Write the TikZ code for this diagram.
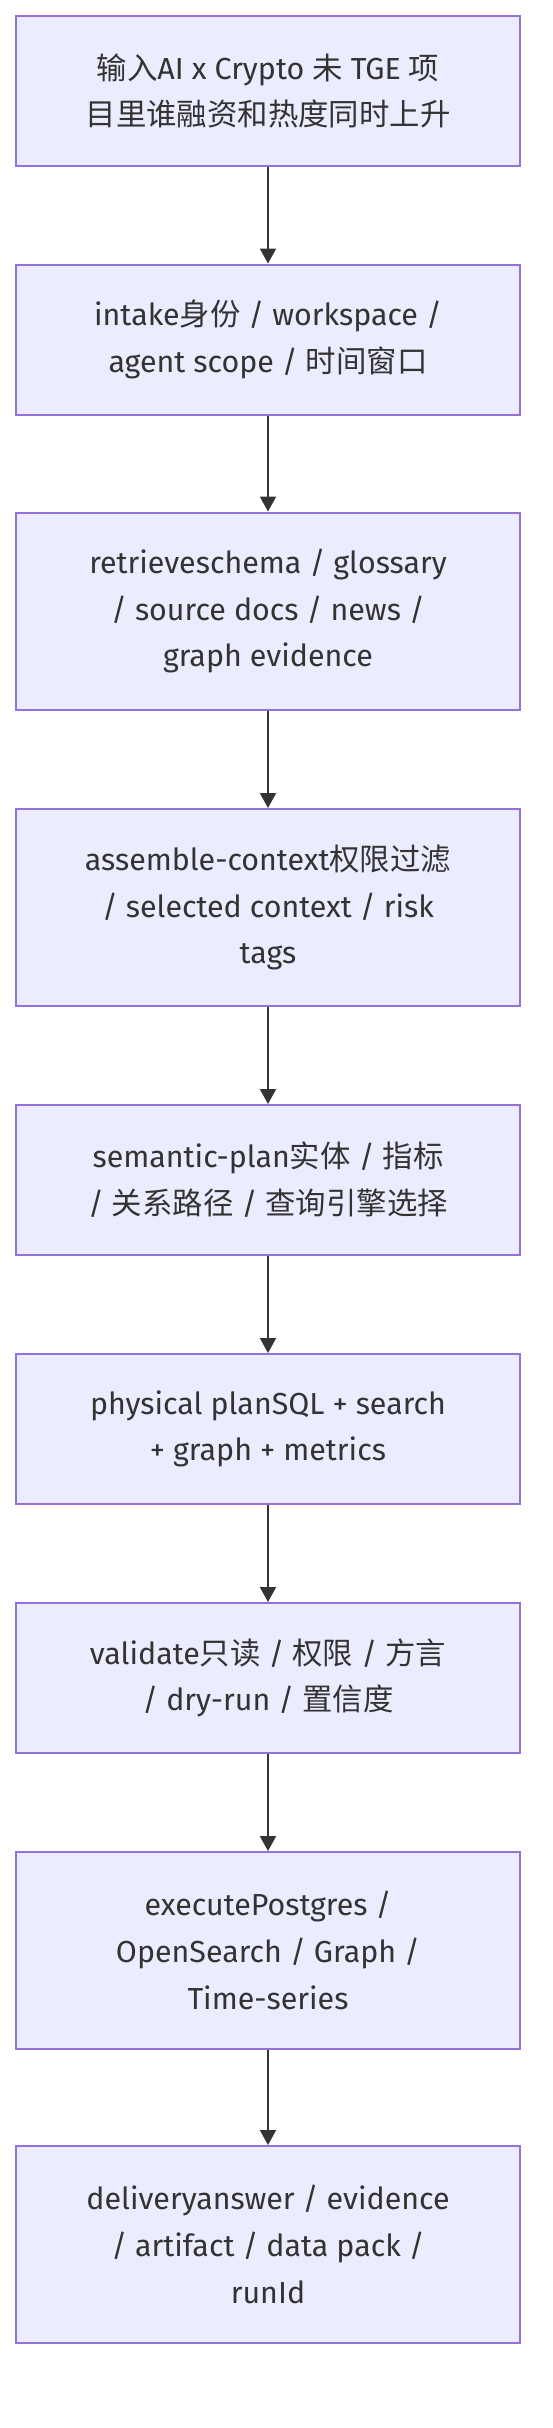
\documentclass[tikz,border=0pt]{standalone}
\usepackage{fontspec}
\setmainfont{Fira Sans}
\newfontfamily\cjk{Noto Sans CJK SC}
\usetikzlibrary{arrows.meta}
\definecolor{boxfill}{HTML}{ECECFF}
\definecolor{boxline}{HTML}{9370DB}
\definecolor{txt}{HTML}{333333}
\newcommand{\zh}[1]{{\cjk #1}}
\begin{document}
\begin{tikzpicture}[x=1pt,y=1pt,
  stepbox/.style={draw=boxline, fill=boxfill, line width=2pt, minimum width=504pt,
    align=center, text=txt, font=\fontsize{30.4}{46.7}\selectfont, inner sep=0pt},
  twoline/.style={minimum height=150pt},
  threeline/.style={minimum height=197pt},
  flow/.style={draw=txt, line width=2pt, -{Triangle[width=16pt,length=15pt]}}]
\useasboundingbox (0,0) rectangle (552,-2428);
\node[stepbox,twoline] (n1) at (268,-91) {\zh{输入}AI x Crypto \zh{未} TGE \zh{项}\\\zh{目里谁融资和热度同时上升}};
\node[stepbox,twoline] (n2) at (268,-339.5) {intake\zh{身份} / workspace /\\agent scope / \zh{时间窗口}};
\node[stepbox,threeline] (n3) at (268,-611) {retrieveschema / glossary\\/ source docs / news /\\graph evidence};
\node[stepbox,threeline] (n4) at (268,-907.5) {assemble-context\zh{权限过滤}\\/ selected context / risk\\tags};
\node[stepbox,twoline] (n5) at (268,-1180) {semantic-plan\zh{实体} / \zh{指标}\\/ \zh{关系路径} / \zh{查询引擎选择}};
\node[stepbox,twoline] (n6) at (268,-1429) {physical planSQL + search\\+ graph + metrics};
\node[stepbox,twoline] (n7) at (268,-1678) {validate\zh{只读} / \zh{权限} / \zh{方言}\\/ dry-run / \zh{置信度}};
\node[stepbox,threeline] (n8) at (268,-1950.5) {executePostgres /\\OpenSearch / Graph /\\Time-series};
\node[stepbox,threeline] (n9) at (268,-2244.5) {deliveryanswer / evidence\\/ artifact / data pack /\\runId};
\draw[flow] (n1) -- (n2);
\draw[flow] (n2) -- (n3);
\draw[flow] (n3) -- (n4);
\draw[flow] (n4) -- (n5);
\draw[flow] (n5) -- (n6);
\draw[flow] (n6) -- (n7);
\draw[flow] (n7) -- (n8);
\draw[flow] (n8) -- (n9);
\end{tikzpicture}
\end{document}
